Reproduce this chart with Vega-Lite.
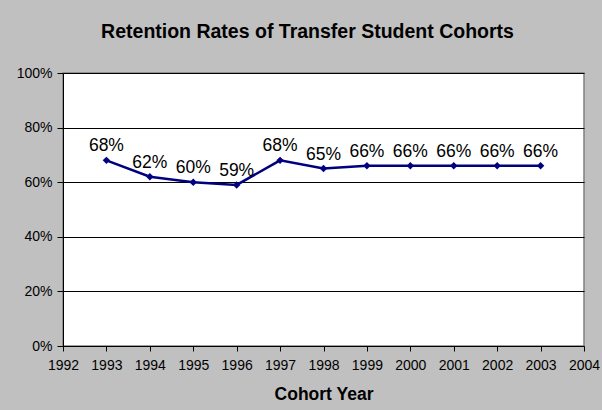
{
  "$schema": "https://vega.github.io/schema/vega-lite/v6.json",
  "autosize": "none",
  "width": 521,
  "height": 273,
  "padding": {"left": 63, "top": 73, "right": 18, "bottom": 64},
  "background": "#C0C0C0",
  "title": {
    "text": "Retention Rates of Transfer Student Cohorts",
    "font": "Liberation Sans",
    "fontSize": 19.5,
    "fontWeight": "bold",
    "color": "#000000",
    "anchor": "middle",
    "dx": -16,
    "offset": 9,
    "baseline": "alphabetic"
  },
  "config": {
    "view": {"fill": "#FFFFFF", "stroke": "#808080", "strokeWidth": 1.5},
    "axis": {
      "labelFont": "Liberation Sans",
      "titleFont": "Liberation Sans",
      "labelColor": "#000000",
      "titleColor": "#000000",
      "domainColor": "#000000",
      "tickColor": "#000000",
      "gridColor": "#000000",
      "gridOpacity": 1,
      "gridWidth": 1,
      "domainWidth": 1,
      "labelFontSize": 14
    }
  },
  "data": {
    "values": [
      {"year": 1993, "rate": 0.68},
      {"year": 1994, "rate": 0.62},
      {"year": 1995, "rate": 0.60},
      {"year": 1996, "rate": 0.59},
      {"year": 1997, "rate": 0.68},
      {"year": 1998, "rate": 0.65},
      {"year": 1999, "rate": 0.66},
      {"year": 2000, "rate": 0.66},
      {"year": 2001, "rate": 0.66},
      {"year": 2002, "rate": 0.66},
      {"year": 2003, "rate": 0.66}
    ]
  },
  "encoding": {
    "x": {
      "field": "year",
      "type": "quantitative",
      "scale": {"domain": [1992, 2004], "nice": false, "zero": false},
      "axis": {
        "title": "Cohort Year",
        "titleFontSize": 17.5,
        "titleFontWeight": "bold",
        "titlePadding": 13,
        "values": [1992,1993,1994,1995,1996,1997,1998,1999,2000,2001,2002,2003,2004],
        "format": "d",
        "grid": false,
        "tickSize": 5,
        "labelPadding": 7,
        "labelFlush": false,
        "labelOverlap": false
      }
    },
    "y": {
      "field": "rate",
      "type": "quantitative",
      "scale": {"domain": [0, 1], "nice": false},
      "axis": {
        "title": null,
        "values": [0, 0.2, 0.4, 0.6, 0.8, 1.0],
        "format": ".0%",
        "grid": true,
        "tickSize": 6,
        "labelPadding": 5,
        "labelFlush": false
      }
    }
  },
  "layer": [
    {
      "mark": {"type": "line", "color": "#000080", "strokeWidth": 2.5}
    },
    {
      "mark": {"type": "point", "shape": "diamond", "filled": true, "color": "#000080", "size": 55, "opacity": 1}
    },
    {
      "mark": {"type": "text", "font": "Liberation Sans", "fontSize": 17.5, "color": "#000000", "baseline": "bottom", "dy": -5},
      "encoding": {
        "text": {"field": "rate", "type": "quantitative", "format": ".0%"}
      }
    }
  ]
}
